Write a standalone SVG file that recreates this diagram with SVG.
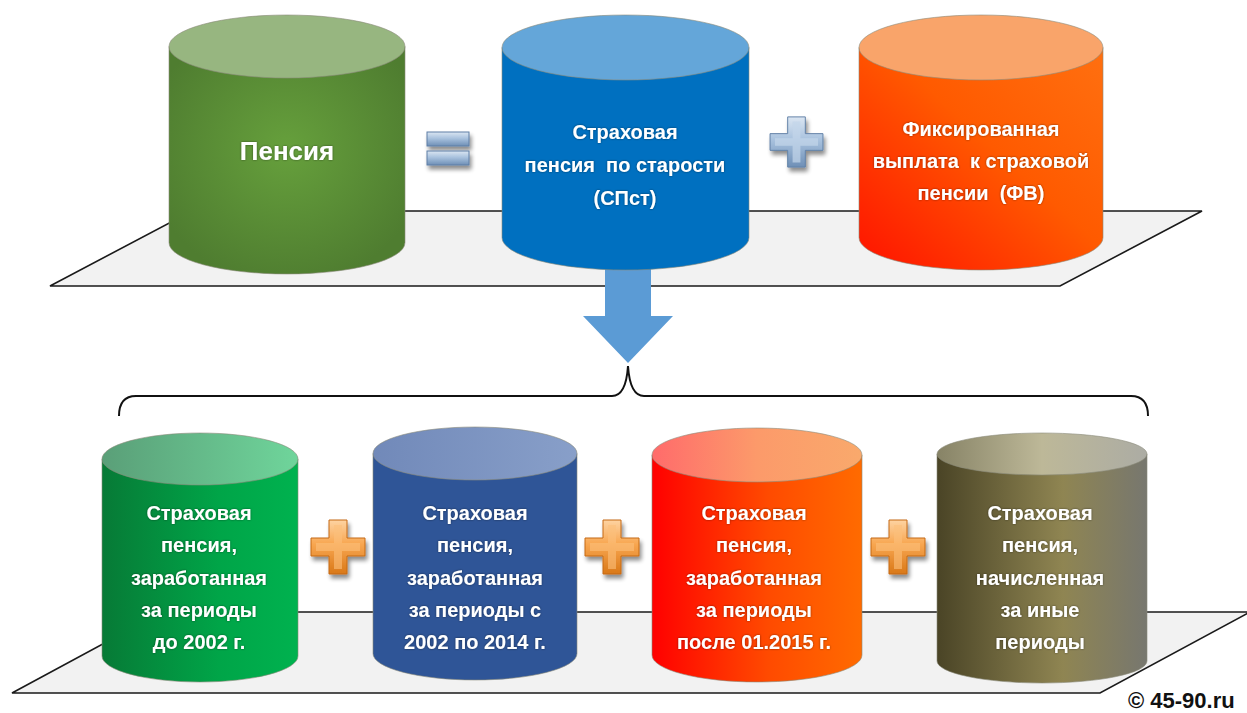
<svg xmlns="http://www.w3.org/2000/svg" width="1247" height="713" viewBox="0 0 1247 713">
<defs>
<style>
.pl{fill:#f2f2f2;stroke:#1a1a1a;stroke-width:1.6;stroke-linejoin:miter}
.t{font-family:"Liberation Sans",Arial,sans-serif;font-weight:bold;font-size:20px;fill:#fff;text-anchor:middle;white-space:pre}
.big{font-size:26px}
.cp{font-family:"Liberation Sans",Arial,sans-serif;font-weight:bold;font-size:22px;fill:#111}
.edge{stroke:#8a8a7a;stroke-width:1;stroke-opacity:.6}
</style>
<filter id="sh" x="-30%" y="-30%" width="170%" height="170%">
<feGaussianBlur in="SourceAlpha" stdDeviation="2.2"/>
<feOffset dx="2" dy="4" result="b"/>
<feComponentTransfer><feFuncA type="linear" slope="0.45"/></feComponentTransfer>
<feMerge><feMergeNode/><feMergeNode in="SourceGraphic"/></feMerge>
</filter>
<filter id="glow" x="-10%" y="-30%" width="120%" height="160%">
<feGaussianBlur in="SourceAlpha" stdDeviation="0.8"/>
<feComponentTransfer><feFuncA type="linear" slope="0.5"/></feComponentTransfer>
<feMerge><feMergeNode/><feMergeNode in="SourceGraphic"/></feMerge>
</filter>
<radialGradient id="gGreenTop" cx="0.5" cy="0.45" r="0.6">
<stop offset="0" stop-color="#66a03c"/><stop offset="1" stop-color="#4f7d30"/>
</radialGradient>
<linearGradient id="gOrTop" x1="0" y1="1" x2="1" y2="0">
<stop offset="0" stop-color="#ff1200"/><stop offset="0.55" stop-color="#ff5a00"/><stop offset="1" stop-color="#ff7010"/>
</linearGradient>
<linearGradient id="gGreenB" x1="0" y1="0" x2="1" y2="0">
<stop offset="0" stop-color="#077a36"/><stop offset="0.6" stop-color="#00a548"/><stop offset="1" stop-color="#00b24f"/>
</linearGradient>
<linearGradient id="gGreenBT" x1="0" y1="0" x2="1" y2="0">
<stop offset="0" stop-color="#5a9f78"/><stop offset="1" stop-color="#6fd59b"/>
</linearGradient>
<linearGradient id="gBlueBT" x1="0" y1="0" x2="1" y2="0">
<stop offset="0" stop-color="#7189b9"/><stop offset="1" stop-color="#889fc9"/>
</linearGradient>
<linearGradient id="gOrB" x1="0" y1="0" x2="1" y2="0">
<stop offset="0" stop-color="#ff0000"/><stop offset="0.55" stop-color="#ff4a00"/><stop offset="1" stop-color="#ff6b00"/>
</linearGradient>
<linearGradient id="gOrBT" x1="0" y1="0" x2="1" y2="0">
<stop offset="0" stop-color="#ff6b6b"/><stop offset="0.5" stop-color="#fc9a6a"/><stop offset="1" stop-color="#f9a96c"/>
</linearGradient>
<linearGradient id="gOl" x1="0" y1="0" x2="1" y2="0">
<stop offset="0" stop-color="#4a4426"/><stop offset="0.6" stop-color="#8f8552"/><stop offset="1" stop-color="#77776f"/>
</linearGradient>
<linearGradient id="gOlT" x1="0" y1="0" x2="1" y2="0">
<stop offset="0" stop-color="#878366"/><stop offset="0.5" stop-color="#bdb898"/><stop offset="1" stop-color="#acaca4"/>
</linearGradient>
<linearGradient id="gSteel" x1="0" y1="0" x2="0" y2="1">
<stop offset="0" stop-color="#dbe6f2"/><stop offset="0.45" stop-color="#a9c2de"/><stop offset="1" stop-color="#6e8fb6"/>
</linearGradient>
<linearGradient id="gOrP" x1="0" y1="0" x2="0" y2="1">
<stop offset="0" stop-color="#fdd3a2"/><stop offset="0.45" stop-color="#f8a650"/><stop offset="1" stop-color="#d97818"/>
</linearGradient>
<path id="plus" d="M-9,-27 H9 V-9 H27 V9 H9 V27 H-9 V9 H-27 V-9 H-9 Z"/>
<path id="plusIn" d="M-4,-22 H4 V-4 H22 V4 H4 V22 H-4 V4 H-22 V-4 H-4 Z"/>
</defs>

<g id="platform-top"><polygon class="pl" points="50,286 1060,286 1202,211 192,211"/></g>
<g id="platform-bottom"><polygon class="pl" points="12,693 1100,693 1250,612 162,612"/></g>

<g id="connectors">
<polygon points="605,250 651,250 651,316 673,316 628,363 583,316 605,316" fill="#5b9bd5"/>
<path d="M119,416 Q119,396 136,396 L612,396 Q626,396 628,366 Q630,396 644,396 L1131,396 Q1148,396 1148,416" fill="none" stroke="#111" stroke-width="2"/>
</g>

<g id="node-pension">
<path d="M169,46.5 V242.5 A118,31.5 0 0 0 405,242.5 V46.5 Z" fill="url(#gGreenTop)" class="edge"/>
<ellipse cx="287" cy="46.5" rx="118" ry="31.5" fill="#97b680" class="edge"/>
<text class="t big" x="287" y="160" filter="url(#glow)">Пенсия</text>
</g>

<g id="sign-equals" filter="url(#sh)">
<rect x="427" y="132" width="42" height="14" fill="url(#gSteel)" stroke="#5e7fa6" stroke-width="1"/>
<rect x="427" y="151" width="42" height="14" fill="url(#gSteel)" stroke="#5e7fa6" stroke-width="1"/>
</g>

<g id="node-spst">
<path d="M502,47.5 V237.5 A123.5,32.5 0 0 0 749,237.5 V47.5 Z" fill="#0070c0" class="edge"/>
<ellipse cx="625.5" cy="47.5" rx="123.5" ry="32.5" fill="#64a6d9" class="edge"/>
<text class="t" x="625" y="139" filter="url(#glow)">Страховая</text>
<text class="t" x="625" y="172" filter="url(#glow)">пенсия  по старости</text>
<text class="t" x="625" y="205" filter="url(#glow)">(СПст)</text>
</g>

<g id="sign-plus-top" filter="url(#sh)" transform="translate(796.5,142) scale(0.98,0.93)">
<use href="#plus" fill="url(#gSteel)" stroke="#5e7fa6" stroke-width="1"/>
<use href="#plusIn" fill="#c3d5ea" opacity="0.7"/>
</g>

<g id="node-fv">
<path d="M859,47.5 V237.5 A122,32.5 0 0 0 1103,237.5 V47.5 Z" fill="url(#gOrTop)" class="edge"/>
<ellipse cx="981" cy="47.5" rx="122" ry="32.5" fill="#f9a46a" class="edge"/>
<text class="t" x="981" y="136" filter="url(#glow)">Фиксированная</text>
<text class="t" x="981" y="168" filter="url(#glow)">выплата  к страховой</text>
<text class="t" x="981" y="200" filter="url(#glow)">пенсии  (ФВ)</text>
</g>

<g id="node-before2002">
<path d="M102,459 V656 A98,26 0 0 0 298,656 V459 Z" fill="url(#gGreenB)" class="edge"/>
<ellipse cx="200" cy="459" rx="98" ry="26" fill="url(#gGreenBT)" class="edge"/>
<text class="t" x="199" y="520" filter="url(#glow)">Страховая</text>
<text class="t" x="199" y="552" filter="url(#glow)">пенсия,</text>
<text class="t" x="199" y="585" filter="url(#glow)">заработанная</text>
<text class="t" x="199" y="617" filter="url(#glow)">за периоды</text>
<text class="t" x="199" y="649" filter="url(#glow)">до 2002 г.</text>
</g>

<g id="node-2002-2014">
<path d="M373,453.5 V653.5 A102,26.5 0 0 0 577,653.5 V453.5 Z" fill="#2f5597" class="edge"/>
<ellipse cx="475" cy="453.5" rx="102" ry="26.5" fill="url(#gBlueBT)" class="edge"/>
<text class="t" x="475" y="520" filter="url(#glow)">Страховая</text>
<text class="t" x="475" y="552" filter="url(#glow)">пенсия,</text>
<text class="t" x="475" y="585" filter="url(#glow)">заработанная</text>
<text class="t" x="475" y="617" filter="url(#glow)">за периоды с</text>
<text class="t" x="475" y="649" filter="url(#glow)">2002 по 2014 г.</text>
</g>

<g id="node-after2015">
<path d="M652,455 V655 A105,27 0 0 0 862,655 V455 Z" fill="url(#gOrB)" class="edge"/>
<ellipse cx="757" cy="455" rx="105" ry="27" fill="url(#gOrBT)" class="edge"/>
<text class="t" x="754" y="520" filter="url(#glow)">Страховая</text>
<text class="t" x="754" y="552" filter="url(#glow)">пенсия,</text>
<text class="t" x="754" y="585" filter="url(#glow)">заработанная</text>
<text class="t" x="754" y="617" filter="url(#glow)">за периоды</text>
<text class="t" x="754" y="649" filter="url(#glow)">после 01.2015 г.</text>
</g>

<g id="node-other">
<path d="M937,454 V661 A105,22 0 0 0 1147,661 V454 Z" fill="url(#gOl)" class="edge"/>
<ellipse cx="1042" cy="454" rx="105" ry="21" fill="url(#gOlT)" class="edge"/>
<text class="t" x="1040" y="520" filter="url(#glow)">Страховая</text>
<text class="t" x="1040" y="552" filter="url(#glow)">пенсия,</text>
<text class="t" x="1040" y="585" filter="url(#glow)">начисленная</text>
<text class="t" x="1040" y="617" filter="url(#glow)">за иные</text>
<text class="t" x="1040" y="649" filter="url(#glow)">периоды</text>
</g>

<g id="sign-plus-1" filter="url(#sh)" transform="translate(338,547)">
<use href="#plus" fill="url(#gOrP)" stroke="#c56a14" stroke-width="1"/>
<use href="#plusIn" fill="#fbbf7c" opacity="0.6"/>
</g>
<g id="sign-plus-2" filter="url(#sh)" transform="translate(612,547)">
<use href="#plus" fill="url(#gOrP)" stroke="#c56a14" stroke-width="1"/>
<use href="#plusIn" fill="#fbbf7c" opacity="0.6"/>
</g>
<g id="sign-plus-3" filter="url(#sh)" transform="translate(898,547)">
<use href="#plus" fill="url(#gOrP)" stroke="#c56a14" stroke-width="1"/>
<use href="#plusIn" fill="#fbbf7c" opacity="0.6"/>
</g>

<text class="cp" x="1128" y="708">© 45-90.ru</text>
</svg>
